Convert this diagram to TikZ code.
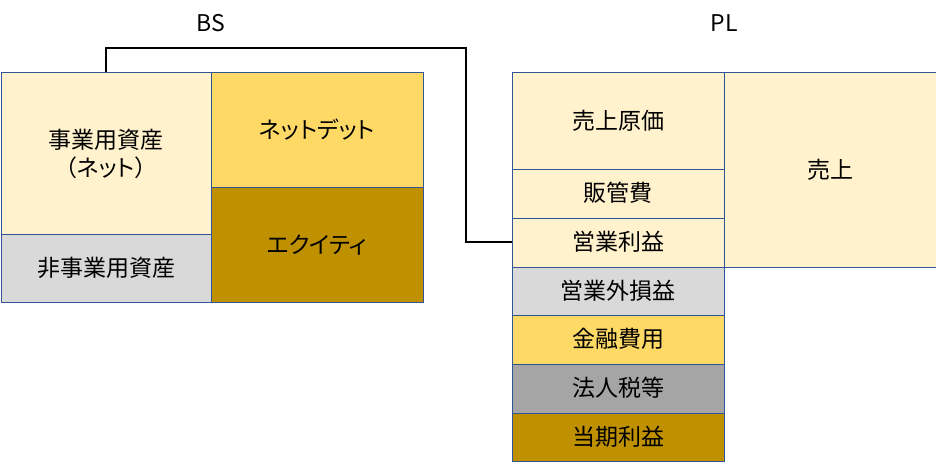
\documentclass[tikz,border=0pt]{standalone}
\usepackage{fontspec}
\setmainfont[RawFeature=+palt]{Noto Sans CJK JP}
\definecolor{lyel}{HTML}{FFF2CC}
\definecolor{yel}{HTML}{FFD966}
\definecolor{gold}{HTML}{BF9000}
\definecolor{lgray}{HTML}{D9D9D9}
\definecolor{mgray}{HTML}{A5A5A5}
\definecolor{bord}{HTML}{2F5597}
\begin{document}
\begin{tikzpicture}[x=1pt,y=-1pt,
  cell/.style={draw=bord,line width=0.9pt},
  lbl/.style={font=\fontsize{23}{28}\selectfont,align=center,inner sep=0pt},
  head/.style={font=\fontsize{23}{26}\selectfont,inner sep=0pt},
  link/.style={draw=black,line width=1.3pt}]
\useasboundingbox (0,0) rectangle (936,466);
% BS
\filldraw[cell,fill=lyel] (1,72) rectangle (211,234);
\node[lbl] (opa) at (106,154) {事業用資産\\（ネット）};
\filldraw[cell,fill=lgray] (1,234) rectangle (211,302);
\node[lbl] (nopa) at (106,268) {非事業用資産};
\filldraw[cell,fill=yel] (211,72) rectangle (423,187);
\node[lbl] (debt) at (317,130) {ネットデット};
\filldraw[cell,fill=gold] (211,187) rectangle (423,302);
\node[lbl] (eq) at (317,245) {エクイティ};
\node[head] (bs) at (211,23) {BS};
% PL
\filldraw[cell,fill=lyel] (512,72) rectangle (724,169);
\node[lbl] (cogs) at (618,121) {売上原価};
\filldraw[cell,fill=lyel] (512,169) rectangle (724,218);
\node[lbl] (sga) at (618,193) {販管費};
\filldraw[cell,fill=lyel] (512,218) rectangle (724,267);
\node[lbl] (op) at (618,242) {営業利益};
\filldraw[cell,fill=lyel] (724,72) rectangle (936,267);
\node[lbl] (sales) at (830,170) {売上};
\filldraw[cell,fill=lgray] (512,267) rectangle (724,315);
\node[lbl] (nonop) at (618,291) {営業外損益};
\filldraw[cell,fill=yel] (512,315) rectangle (724,364);
\node[lbl] (fin) at (618,339) {金融費用};
\filldraw[cell,fill=mgray] (512,364) rectangle (724,413);
\node[lbl] (tax) at (618,388) {法人税等};
\filldraw[cell,fill=gold] (512,413) rectangle (724,461);
\node[lbl] (ni) at (618,437) {当期利益};
\node[head] (pl) at (724,23) {PL};
% connector
\coordinate (ctop) at (106,72);
\coordinate (cend) at (512,242);
\draw[link] (ctop) -- (106,48) -- (466,48) -- (466,242) -- (cend);
\end{tikzpicture}
\end{document}
